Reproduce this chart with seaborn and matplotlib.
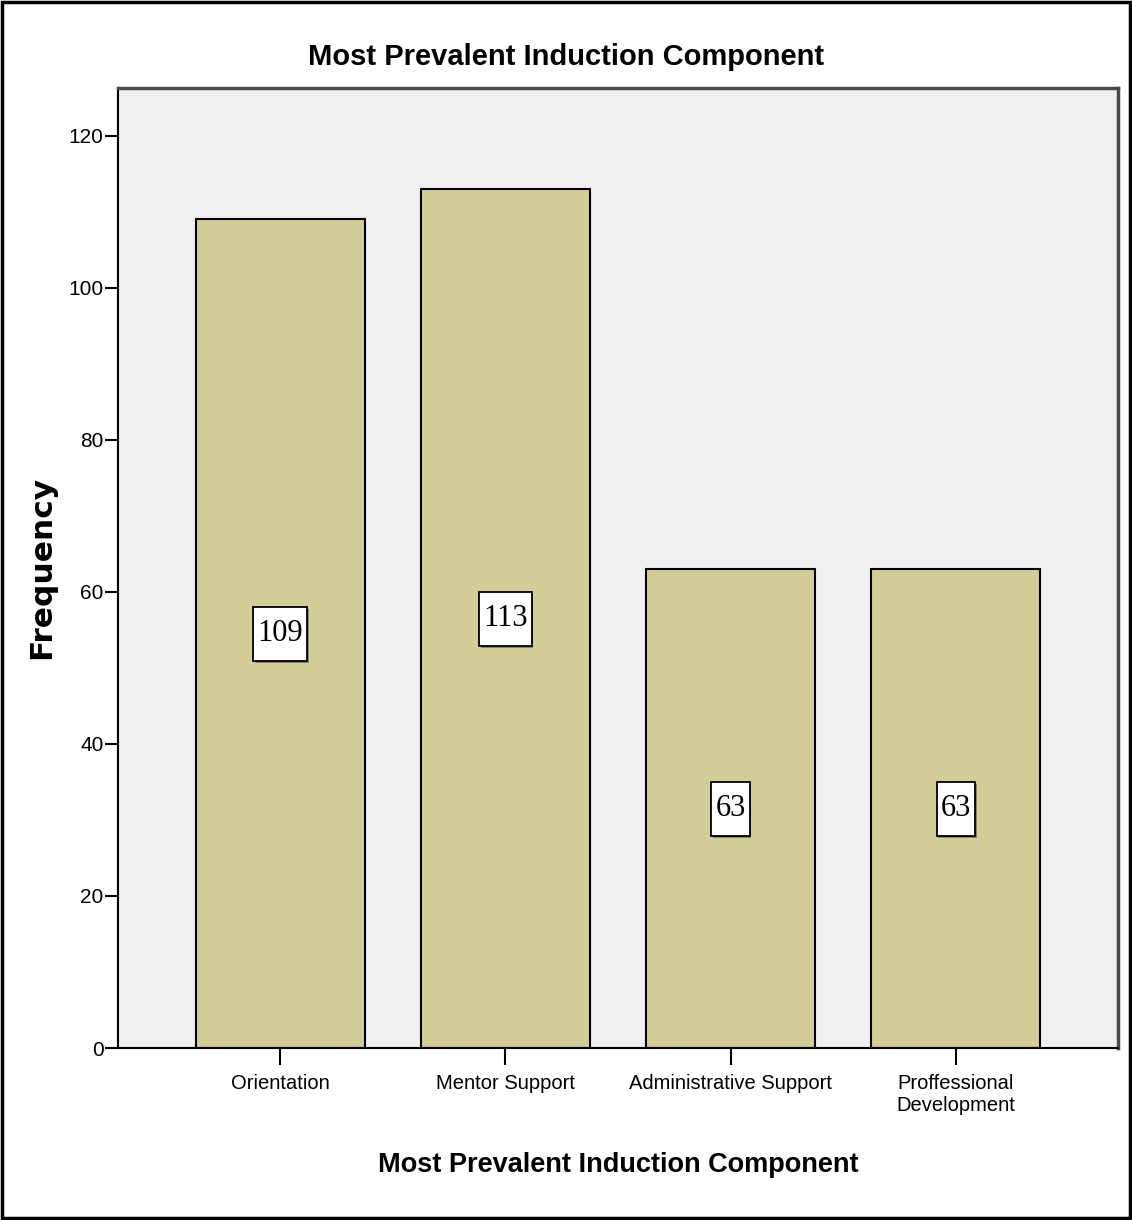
import matplotlib
matplotlib.use("Agg")
import matplotlib.pyplot as plt
import matplotlib.patheffects as pe
from matplotlib.patches import Rectangle
import seaborn as sns
import pandas as pd

categories = ["Orientation", "Mentor Support", "Administrative Support",
              "Proffessional\nDevelopment"]
frequencies = [109, 113, 63, 63]
y_ticks = [0, 20, 40, 60, 80, 100, 120]

sns.set_theme(style="white")
plt.rcParams["font.family"] = ["Liberation Sans", "DejaVu Sans"]
plt.rcParams["text.color"] = "black"
plt.rcParams["xtick.color"] = "black"
plt.rcParams["ytick.color"] = "black"

df = pd.DataFrame({"component": categories, "frequency": frequencies})

fig = plt.figure(figsize=(11.32, 12.2), dpi=100)
ax = fig.add_axes([118 / 1132, 1 - 1048 / 1220, 1000 / 1132, 960 / 1220])
ax.set_facecolor("#F0F0F0")

sns.barplot(data=df, x="component", y="frequency", color="#D3CE98",
            saturation=1, width=0.75, edgecolor="black", linewidth=1.5, ax=ax)

ax.set_xlim(-0.72, 3.72)
ax.set_ylim(0, 126.3)
ax.set_yticks(y_ticks)
ax.set_yticklabels([str(t) for t in y_ticks])
ax.set_xlabel("")
ax.set_ylabel("")

for side in ["left", "bottom"]:
    ax.spines[side].set_color("black")
    ax.spines[side].set_linewidth(1.5)
for side in ["top", "right"]:
    ax.spines[side].set_color("#4a4a4a")
    ax.spines[side].set_linewidth(2.5)

ax.tick_params(axis="y", left=True, direction="out", length=9.5, width=1.5,
               color="black", labelcolor="black", labelsize=15, pad=1)
ax.tick_params(axis="x", bottom=True, direction="out", length=12, width=1.5,
               color="black", labelcolor="black", labelsize=14.5, pad=7)
for lab in ax.get_xticklabels():
    lab.set_linespacing(1.2)
    lab.set_verticalalignment("top")

# value labels at mid-height of each bar, framed by a white box with a shadow
value_texts = []
for i, v in enumerate(frequencies):
    t = ax.text(i, v / 2, str(v), ha="center", va="center",
                family=["Liberation Serif", "DejaVu Serif"], fontsize=22,
                color="black", zorder=6)
    value_texts.append(t)

fig.canvas.draw()
renderer = fig.canvas.get_renderer()
for t in value_texts:
    bb = t.get_window_extent(renderer)
    padx, pady = 4, 13
    x0, y0 = bb.x0 - padx, bb.y0 - pady
    w, h = bb.width + 2 * padx, bb.height + 2 * pady - 1
    box = Rectangle((x0, y0), w, h, transform=None, facecolor="white",
                    edgecolor="black", linewidth=1.3, zorder=5)
    box.set_path_effects([pe.SimplePatchShadow(offset=(1.2, -1.2),
                                               shadow_rgbFace="#555555", alpha=0.6),
                          pe.Normal()])
    ax.add_artist(box)

fig.text(0.5, 1 - 57 / 1220, "Most Prevalent Induction Component",
         ha="center", va="center", fontsize=21, fontweight="bold", color="black")
fig.text(618 / 1132, 1 - 1165 / 1220, "Most Prevalent Induction Component",
         ha="center", va="center", fontsize=19.5, fontweight="bold", color="black")
fig.text(42 / 1132, 1 - 567 / 1220, "Frequency", rotation=90,
         ha="center", va="center", fontsize=22.5, fontweight="bold",
         family=["DejaVu Sans"], color="black")

# outer frame around the figure
fig.patches.append(Rectangle((0.0015, 0.0015), 0.997, 0.997, transform=fig.transFigure,
                             fill=False, edgecolor="black", linewidth=2.5))

fig.savefig("out.png", dpi=100)
